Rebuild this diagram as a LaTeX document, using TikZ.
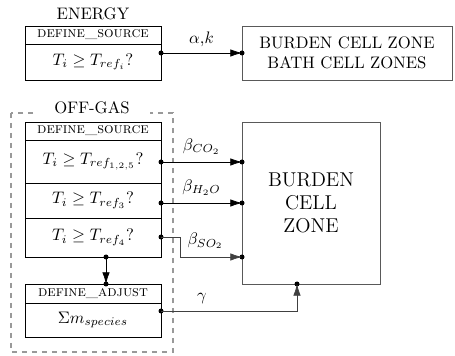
\documentclass[tikz,border=0pt]{standalone}
\usetikzlibrary{positioning,arrows.meta}
\begin{document}
\begin{tikzpicture}[x=0.6pt, y=0.6pt,
        cell/.style={draw, minimum width=81.6pt, inner sep=0pt, outer sep=0pt},
        head/.style={cell, minimum height=10.8pt, font=\small\scshape},
        zone/.style={draw=black!65, align=center, inner sep=0pt, outer sep=0pt},
        pin/.style={circle, fill, inner sep=0pt, minimum size=3pt},
        flow/.style={-{Latex[length=7pt, width=4.5pt]}}]
        \useasboundingbox (0,0) rectangle (455,-356);

        % Off-gas frame
        \draw[dash pattern=on 3pt off 3pt, black!40, line width=0.8pt] (11,-113) rectangle (173,-352);
        \node[fill=white, inner xsep=12pt, inner ysep=1pt] (offgas) at (92,-108) {OFF-GAS};

        % Energy
        \node (energy) at (93,-14) {ENERGY};
        \node[head, anchor=north west] (ehead) at (25,-26) {define\_source};
        \node[cell, minimum height=21.6pt, below=0pt of ehead] (ebody) {$T_i \geq T_{ref_i}$?};

        % Off-gas sources
        \node[head, anchor=north west] (shead) at (25,-122) {define\_source};
        \node[cell, minimum height=25.8pt, below=0pt of shead] (s1) {$T_i \geq T_{ref_{1,2,5}}$?};
        \node[cell, minimum height=21pt, below=0pt of s1] (s2) {$T_i \geq T_{ref_3}$?};
        \node[cell, minimum height=23.4pt, below=0pt of s2] (s3) {$T_i \geq T_{ref_4}$?};
        \node[head, minimum height=11.4pt, anchor=north west] (ahead) at (25,-284) {define\_adjust};
        \node[cell, minimum height=20.4pt, below=0pt of ahead] (abody) {$\Sigma m_{species}$};

        % Zones
        \node[zone, minimum width=126pt, minimum height=32.4pt, anchor=north west] (bath) at (242,-26) {BURDEN CELL ZONE\\BATH CELL ZONES};
        \node[zone, minimum width=82.8pt, minimum height=97.2pt, anchor=north west, font=\large] (burden) at (242,-122) {BURDEN\\CELL\\ZONE};

        % Pins
        \node[pin] (pe) at (161,-53) {};
        \node[pin] (qe) at (242,-53) {};
        \node[pin] (p1) at (161,-162) {};
        \node[pin] (q1) at (242,-162) {};
        \node[pin] (p2) at (161,-203) {};
        \node[pin] (q2) at (242,-203) {};
        \node[pin] (p3) at (161,-237) {};
        \node[pin] (q3) at (242,-257) {};
        \node[pin] (pd) at (106,-257) {};
        \node[pin] (qd) at (106,-284) {};
        \node[pin] (pa) at (161,-311) {};
        \node[pin] (qa) at (297,-284) {};

        % Connections
        \draw[flow] (pe.center) -- (qe.center) node[midway, above=0pt] {$\alpha$,$k$};
        \draw[flow] (p1.center) -- (q1.center) node[midway, above=1pt] {$\beta_{CO_2}$};
        \draw[flow] (p2.center) -- (q2.center) node[midway, above=1pt] {$\beta_{H_2O}$};
        \draw[flow, black!75] (p3.center) -- ++(19,0) |- (q3.center) node[pos=0.1, right=1pt, black] {$\beta_{SO_2}$};
        \draw[flow] (pd.center) -- (qd.center);
        \draw[flow, black!75] (pa.center) -| (qa.center) node[pos=0.15, above=1pt, black] {$\gamma$};
    \end{tikzpicture}
\end{document}
